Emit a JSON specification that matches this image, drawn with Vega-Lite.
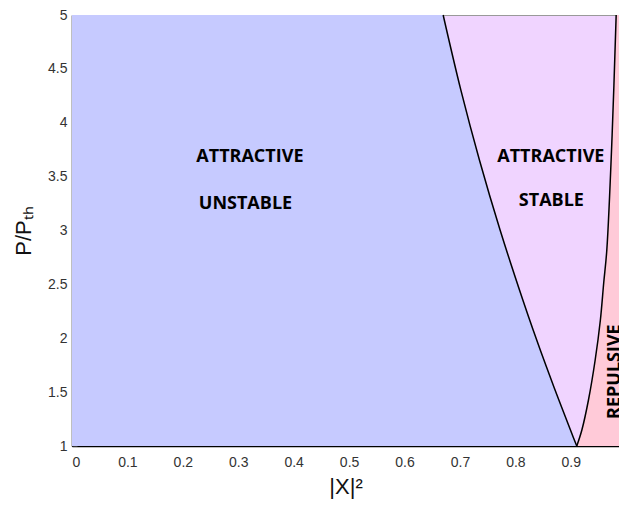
{
  "$schema": "https://vega.github.io/schema/vega-lite/v6.json",
  "width": 547,
  "height": 431,
  "autosize": {"type": "none"},
  "padding": {"left": 72, "top": 15, "right": 0, "bottom": 62},
  "background": "white",
  "config": {
    "view": {"stroke": "#999", "strokeWidth": 1, "fill": "#f0d4ff"},
    "axis": {
      "labelFont": "Liberation Sans",
      "labelFontSize": 14,
      "labelColor": "#333",
      "titleFont": "Liberation Sans",
      "titleFontSize": 22,
      "titleFontWeight": "normal",
      "titleColor": "#111",
      "domainColor": "#000",
      "domainWidth": 1.5,
      "tickColor": "#333",
      "tickSize": -5,
      "grid": false
    }
  },
  "datasets": {
    "leftcurve": [
      {"P": 1.0, "x": 0.9108},
      {"P": 1.118, "x": 0.9017},
      {"P": 1.427, "x": 0.8785},
      {"P": 1.733, "x": 0.8562},
      {"P": 2.077, "x": 0.8321},
      {"P": 2.355, "x": 0.8135},
      {"P": 3.0, "x": 0.7727},
      {"P": 3.65, "x": 0.7354},
      {"P": 4.3, "x": 0.7018},
      {"P": 5.0, "x": 0.6697}
    ],
    "rightcurve": [
      {"P": 1.0, "x": 0.9108},
      {"P": 1.1485, "x": 0.9200},
      {"P": 1.4269, "x": 0.9319},
      {"P": 1.7981, "x": 0.9440},
      {"P": 2.1694, "x": 0.9534},
      {"P": 2.5128, "x": 0.9594},
      {"P": 2.819, "x": 0.9650},
      {"P": 3.8863, "x": 0.9746},
      {"P": 5.0, "x": 0.9819}
    ],
    "labels": [
      {"x": 0.321, "P": 3.68, "text": "ATTRACTIVE", "angle": 0},
      {"x": 0.313, "P": 3.25, "text": "UNSTABLE", "angle": 0},
      {"x": 0.864, "P": 3.68, "text": "ATTRACTIVE", "angle": 0},
      {"x": 0.865, "P": 3.27, "text": "STABLE", "angle": 0},
      {"x": 0.980, "P": 1.69, "text": "REPULSIVE", "angle": 270}
    ]
  },
  "layer": [
    {
      "data": {"name": "leftcurve"},
      "mark": {"type": "area", "orient": "horizontal", "color": "#c6caff", "interpolate": "catmull-rom"},
      "encoding": {
        "y": {"field": "P", "type": "quantitative",
          "scale": {"domain": [1, 5], "nice": false, "zero": false},
          "axis": {"title": "P/Pₜₕ", "values": [1, 1.5, 2, 2.5, 3, 3.5, 4, 4.5, 5], "labelExpr": "datum.value + ''", "labelPadding": 10, "titlePadding": 12}},
        "x": {"field": "x", "type": "quantitative",
          "scale": {"domain": [0, 0.987], "nice": false, "zero": false},
          "axis": {"title": "|X|²", "values": [0, 0.1, 0.2, 0.3, 0.4, 0.5, 0.6, 0.7, 0.8, 0.9], "labelExpr": "datum.value + ''", "labelPadding": 14, "titlePadding": 7}},
        "x2": {"datum": 0}
      }
    },
    {
      "data": {"name": "rightcurve"},
      "mark": {"type": "area", "orient": "horizontal", "color": "#ffcad8", "interpolate": "catmull-rom"},
      "encoding": {
        "y": {"field": "P", "type": "quantitative"},
        "x": {"field": "x", "type": "quantitative"},
        "x2": {"datum": 0.987}
      }
    },
    {
      "data": {"name": "leftcurve"},
      "mark": {"type": "line", "color": "#000", "strokeWidth": 1.5, "interpolate": "catmull-rom"},
      "encoding": {
        "y": {"field": "P", "type": "quantitative"},
        "x": {"field": "x", "type": "quantitative"},
        "order": {"field": "P"}
      }
    },
    {
      "data": {"name": "rightcurve"},
      "mark": {"type": "line", "color": "#000", "strokeWidth": 1.5, "interpolate": "catmull-rom"},
      "encoding": {
        "y": {"field": "P", "type": "quantitative"},
        "x": {"field": "x", "type": "quantitative"},
        "order": {"field": "P"}
      }
    },
    {
      "data": {"name": "labels"},
      "mark": {"type": "text", "font": "Open Sans", "fontWeight": "bold", "fontSize": 18, "color": "#000", "align": "center", "baseline": "middle"},
      "encoding": {
        "y": {"field": "P", "type": "quantitative"},
        "x": {"field": "x", "type": "quantitative"},
        "text": {"field": "text"},
        "angle": {"field": "angle", "type": "quantitative", "scale": null}
      }
    }
  ]
}
